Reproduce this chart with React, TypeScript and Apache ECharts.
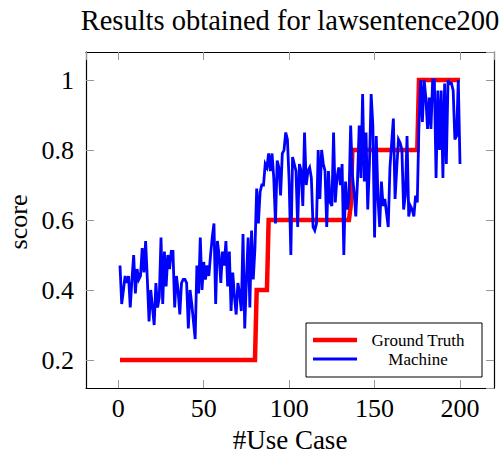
import React, { useEffect, useRef } from "react";
import * as echarts from "echarts";

const titleText = "Results obtained for lawsentence200";
const xName = "#Use Case";
const yName = "score";
const legendNames = ["Ground Truth", "Machine"];

// Ground truth step function (use case, score)
const gtX = [1, 80, 81, 87, 88, 135, 136, 137, 175, 176, 200];
const gtY = [0.2, 0.2, 0.4, 0.4, 0.6, 0.6, 0.64, 0.8, 0.8, 1.0, 1.0];

// Machine scores for use cases 1..200
const machine = [
  0.47, 0.36, 0.40, 0.44, 0.42, 0.44, 0.35, 0.43, 0.50, 0.39,
  0.46, 0.43, 0.44, 0.52, 0.45, 0.54, 0.43, 0.31, 0.40, 0.35,
  0.30, 0.42, 0.35, 0.38, 0.55, 0.36, 0.51, 0.41, 0.50, 0.46,
  0.51, 0.51, 0.35, 0.44, 0.40, 0.33, 0.42, 0.43, 0.43, 0.42,
  0.29, 0.40, 0.36, 0.31, 0.26, 0.47, 0.39, 0.55, 0.40, 0.48,
  0.43, 0.47, 0.44, 0.50, 0.55, 0.59, 0.36, 0.54, 0.50, 0.42,
  0.51, 0.47, 0.54, 0.41, 0.51, 0.34, 0.45, 0.38, 0.33, 0.42,
  0.39, 0.34, 0.56, 0.29, 0.43, 0.55, 0.35, 0.57, 0.43, 0.52,
  0.69, 0.59, 0.68, 0.70, 0.70, 0.76, 0.75, 0.79, 0.74, 0.79,
  0.72, 0.59, 0.77, 0.75, 0.67, 0.79, 0.80, 0.85, 0.83, 0.71,
  0.50, 0.78, 0.76, 0.74, 0.58, 0.76, 0.74, 0.64, 0.85, 0.70,
  0.74, 0.75, 0.72, 0.58, 0.57, 0.59, 0.80, 0.66, 0.80, 0.76,
  0.74, 0.58, 0.74, 0.65, 0.64, 0.85, 0.65, 0.72, 0.75, 0.70,
  0.76, 0.50, 0.71, 0.63, 0.66, 0.87, 0.73, 0.68, 0.61, 0.71,
  0.87, 0.72, 0.96, 0.71, 0.85, 0.63, 0.76, 0.96, 0.87, 0.55,
  0.84, 0.66, 0.58, 0.71, 0.64, 0.66, 0.62, 0.58, 0.75, 0.82,
  0.89, 0.66, 0.75, 0.83, 0.82, 0.80, 0.63, 0.67, 0.84, 0.61,
  0.64, 0.63, 0.61, 0.67, 0.65, 0.88, 1.00, 0.88, 1.00, 0.95,
  0.86, 0.95, 0.86, 1.00, 1.00, 0.72, 0.97, 0.80, 0.97, 0.72,
  0.99, 0.76, 1.00, 0.99, 0.99, 0.97, 0.83, 0.84, 1.00, 0.76,
];

const xMin = -18.9;
const xMax = 219.9;
const yMin = 0.12;
const yMax = 1.08;

const FONT = "'Liberation Serif', 'Times New Roman', serif";

export default function App() {
  const ref = useRef<HTMLDivElement>(null);

  useEffect(() => {
    document.body.style.margin = "0";
    if (!ref.current) return;
    const chart = echarts.init(ref.current, null, { renderer: "svg" });

    const gtData = gtX.map((x, i) => [x, gtY[i]]);
    const mData = machine.map((v, i) => [i + 1, v]);

    const xLabelFmt = (v: number) =>
      Math.abs(v / 50 - Math.round(v / 50)) < 1e-6 ? String(Math.round(v)) : "";
    const yLabelFmt = (v: number) => {
      const r = Math.round(v * 10) / 10;
      if (Math.abs(v - r) > 1e-6 || Math.abs(r * 5 - Math.round(r * 5)) > 1e-6) return "";
      return r === 1 ? "1" : r.toFixed(1);
    };

    const tick = { show: true, inside: true, length: 8, lineStyle: { color: "#999", width: 1 } };
    const line = { show: true, onZero: false, lineStyle: { color: "#000", width: 1.2 } };

    chart.setOption({
      animation: false,
      backgroundColor: "#fff",
      grid: {
        left: 86,
        right: 7,
        top: 52,
        bottom: 68,
        containLabel: false,
        outerBoundsMode: "none",
      },
      xAxis: [
        {
          type: "value",
          min: xMin,
          max: xMax,
          splitNumber: 5,
          axisLine: line,
          axisTick: tick,
          splitLine: { show: false },
          axisLabel: {
            show: true,
            showMinLabel: false,
            showMaxLabel: false,
            formatter: xLabelFmt,
            color: "#000",
            fontFamily: FONT,
            fontSize: 26,
            margin: 7,
          },
        },
        {
          type: "value",
          position: "top",
          min: xMin,
          max: xMax,
          splitNumber: 5,
          axisLine: line,
          axisTick: tick,
          splitLine: { show: false },
          axisLabel: { show: false },
        },
      ],
      yAxis: [
        {
          type: "value",
          min: yMin,
          max: yMax,
          splitNumber: 5,
          axisLine: line,
          axisTick: tick,
          splitLine: { show: false },
          axisLabel: {
            show: true,
            showMinLabel: false,
            showMaxLabel: false,
            formatter: yLabelFmt,
            color: "#000",
            fontFamily: FONT,
            fontSize: 26,
            margin: 12,
          },
        },
        {
          type: "value",
          position: "right",
          min: yMin,
          max: yMax,
          splitNumber: 5,
          axisLine: line,
          axisTick: tick,
          splitLine: { show: false },
          axisLabel: { show: false },
        },
      ],
      series: [
        {
          name: legendNames[0],
          type: "line",
          data: gtData,
          showSymbol: false,
          symbol: "none",
          lineStyle: { color: "#ff0000", width: 4.5, join: "miter" },
          z: 2,
        },
        {
          name: legendNames[1],
          type: "line",
          data: mData,
          showSymbol: false,
          symbol: "none",
          lineStyle: { color: "#0000ff", width: 2.8, join: "miter" },
          z: 3,
        },
      ],
      graphic: [
        {
          type: "text",
          x: 290,
          y: 20,
          style: {
            text: titleText,
            font: `28.5px ${FONT}`,
            fill: "#000",
            align: "center",
            verticalAlign: "middle",
          },
        },
        {
          type: "text",
          x: 290,
          y: 440,
          style: {
            text: xName,
            font: `27px ${FONT}`,
            fill: "#000",
            align: "center",
            verticalAlign: "middle",
          },
        },
        {
          type: "text",
          x: 18,
          y: 222,
          rotation: Math.PI / 2,
          style: {
            text: yName,
            font: `26px ${FONT}`,
            fill: "#000",
            align: "center",
            verticalAlign: "middle",
          },
        },
        {
          type: "group",
          z: 100,
          children: [
            {
              type: "rect",
              shape: { x: 306, y: 323, width: 176, height: 54 },
              style: { fill: "#fff", stroke: "#000", lineWidth: 1 },
            },
            {
              type: "line",
              shape: { x1: 313, y1: 340, x2: 357, y2: 340 },
              style: { stroke: "#ff0000", lineWidth: 4.5 },
            },
            {
              type: "line",
              shape: { x1: 313, y1: 359, x2: 357, y2: 359 },
              style: { stroke: "#0000ff", lineWidth: 2.8 },
            },
            {
              type: "text",
              x: 418,
              y: 340,
              style: {
                text: legendNames[0],
                font: `17px ${FONT}`,
                fill: "#000",
                align: "center",
                verticalAlign: "middle",
              },
            },
            {
              type: "text",
              x: 418,
              y: 359,
              style: {
                text: legendNames[1],
                font: `17px ${FONT}`,
                fill: "#000",
                align: "center",
                verticalAlign: "middle",
              },
            },
          ],
        },
      ],
    });

    return () => chart.dispose();
  }, []);

  return <div ref={ref} style={{ width: 501, height: 456 }} />;
}
